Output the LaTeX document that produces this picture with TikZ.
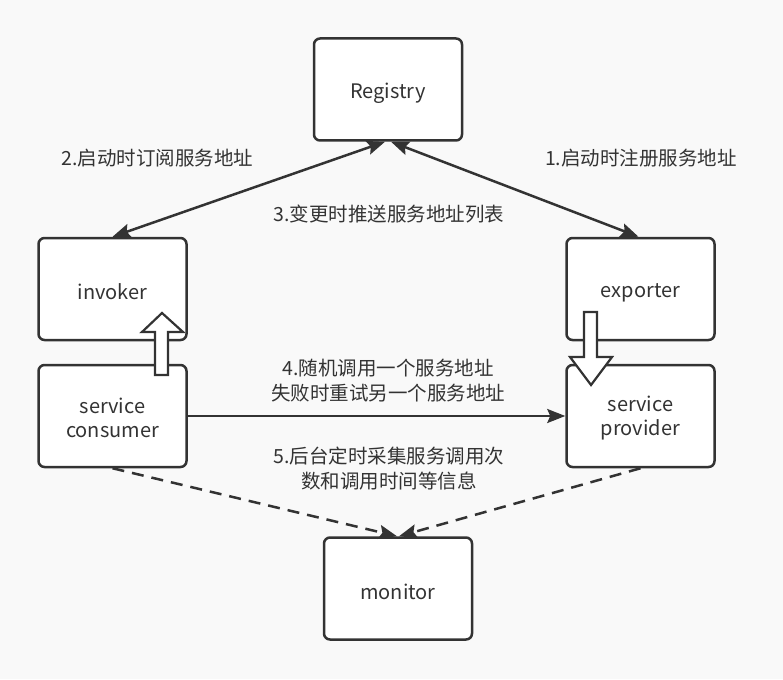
\documentclass[tikz,border=0pt]{standalone}
\usepackage{fontspec}
\setmainfont{Noto Sans CJK SC}
\usetikzlibrary{arrows.meta}
\definecolor{ink}{HTML}{333333}
\definecolor{bg}{HTML}{F9F9F9}
\begin{document}
\begin{tikzpicture}[x=1pt,y=-1pt,
  >={Stealth[length=18pt,width=14pt,inset=3pt]},
  box/.style={draw=ink, line width=2.5pt, fill=white, rounded corners=6pt,
    minimum width=148pt, minimum height=102pt, inner sep=0pt},
  boxtext/.style={text=ink, align=center, inner sep=0pt,
    font=\fontsize{20}{24.5}\selectfont},
  lbl/.style={text=ink, align=center, inner sep=0pt, font=\fontsize{19.5}{25}\selectfont},
  conn/.style={draw=ink, line width=2.5pt},
  dashconn/.style={conn, dash pattern=on 12pt off 8pt},
  hollow/.style={draw=ink, line width=2.2pt, fill=white, line join=miter}
]
\fill[bg] (0,0) rectangle (783,679);
\useasboundingbox (0,0) rectangle (783,679);

\node[box] (reg) at (388,89.5) {};
\node[box] (inv) at (112.5,289) {};
\node[box] (exp) at (640.5,289) {};
\node[box] (con) at (112.5,416) {};
\node[box] (pro) at (640.5,416) {};
\node[box] (mon) at (398,588.5) {};

\node[boxtext] (regt) at ([yshift=-3.5pt]reg.center) {Registry};
\node[boxtext] (invt) at ([yshift=-3pt]inv.center) {invoker};
\node[boxtext] (expt) at ([yshift=-3.5pt]exp.center) {exporter};
\node[boxtext] (cont) at ([yshift=-2pt]con.center) {service\\consumer};
\node[boxtext] (prot) at ([yshift=-2pt]pro.center) {service\\provider};
\node[boxtext] (mont) at ([yshift=-3pt]mon.center) {monitor};

% hollow block arrows
\draw[hollow] (155,375) -- (155,332) -- (142,332) -- (162,313) -- (183,332)
  -- (168,332) -- (168,375) -- cycle;
\draw[hollow] (584,312) -- (584,357) -- (570,357) -- (591,385) -- (612,357)
  -- (597,357) -- (597,312) -- cycle;

% connectors
\draw[conn,<->] ([xshift=-3pt]reg.south) -- (inv.north);
\draw[conn,<->] ([xshift=3pt]reg.south) -- ([xshift=-2pt]exp.north);
\draw[conn,->] (con.east) -- (pro.west);
\draw[dashconn,->] (con.south) -- ([xshift=-1pt]mon.north);
\draw[dashconn,->] (pro.south) -- ([xshift=1pt]mon.north);

% labels
\node[lbl] (l2) at (157.5,158) {2.启动时订阅服务地址};
\node[lbl] (l1) at (641,158) {1.启动时注册服务地址};
\node[lbl] (l3) at (389,214) {3.变更时推送服务地址列表};
\node[lbl] (l4) at (388,381) {4.随机调用一个服务地址\\失败时重试另一个服务地址};
\node[lbl] (l5) at (389,469) {5.后台定时采集服务调用次\\数和调用时间等信息};
\end{tikzpicture}
\end{document}
